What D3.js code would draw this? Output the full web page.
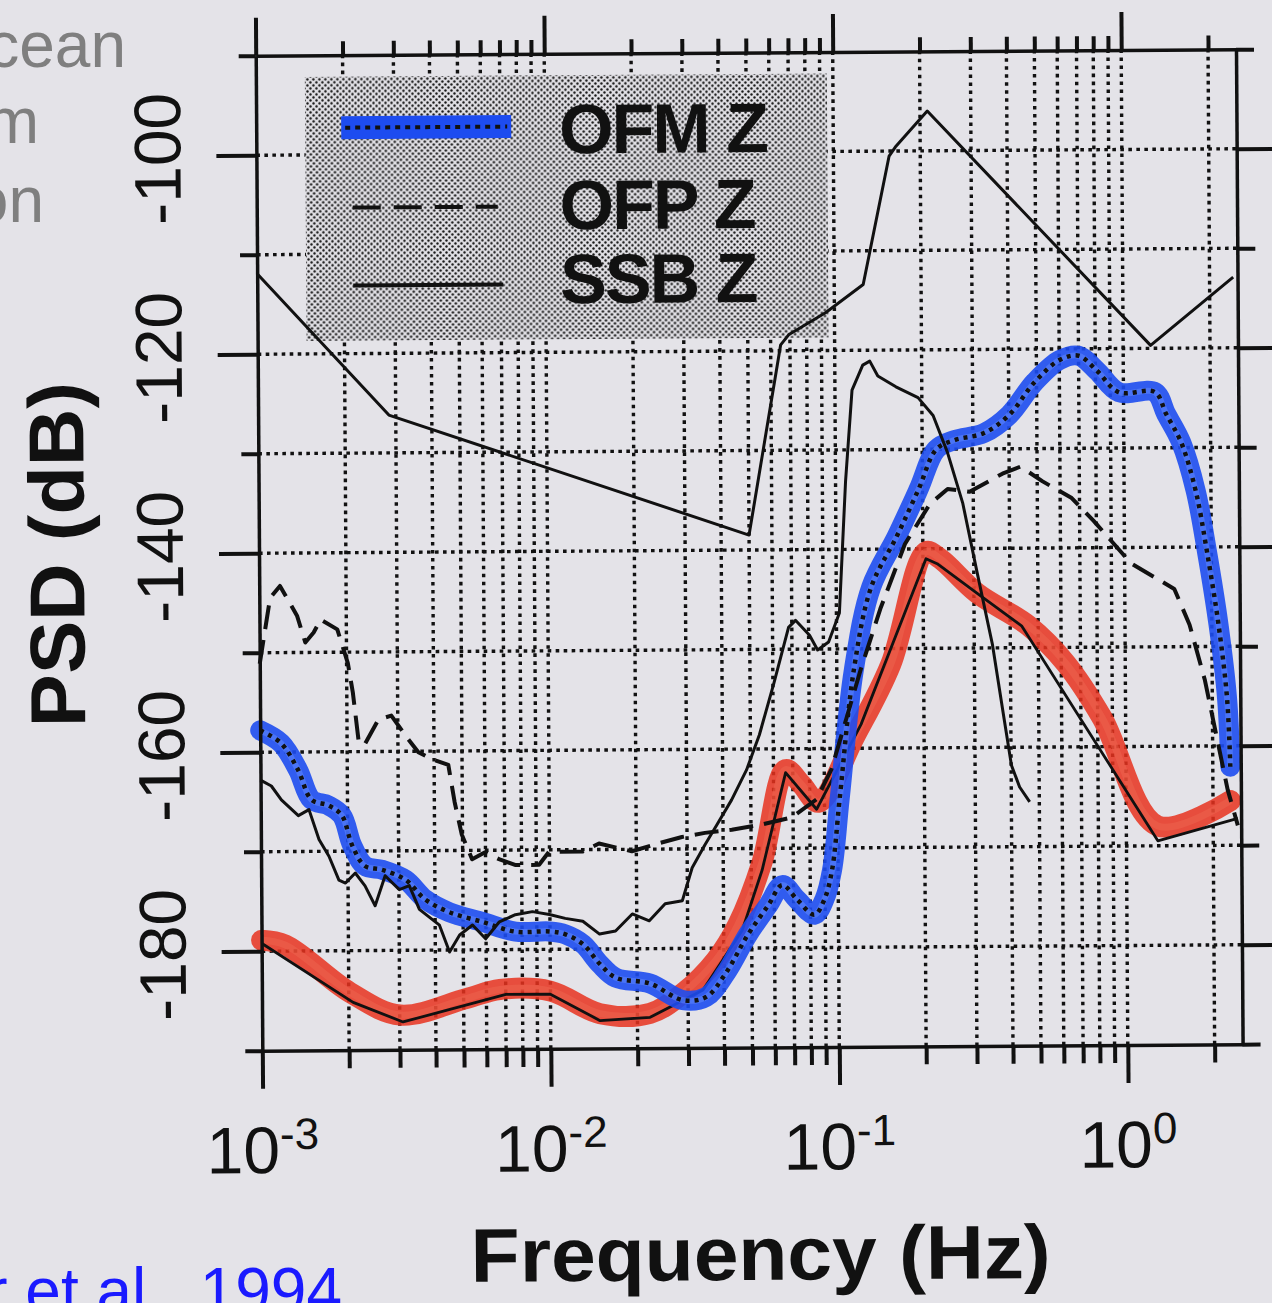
<!DOCTYPE html>
<html><head><meta charset="utf-8">
<script src="https://cdn.jsdelivr.net/npm/d3@7"></script>
<style>html,body{margin:0;padding:0;background:#e4e3e8;}svg{display:block;}</style>
</head><body>
<svg id="chart" width="1272" height="1303"></svg>
<script>
// ---------- data ----------
const decades = [1e-3, 1e-2, 1e-1, 1];
const decadeExponents = ["-3", "-2", "-1", "0"];
const mantissas = [1, 2, 3, 4, 5, 6, 7, 8, 9];
const yMajorTicks = [-180, -160, -140, -120, -100];
const yMinorTicks = [-190, -170, -150, -130, -110, -90];
const yGridValues = [-180, -170, -160, -150, -140, -130, -120, -110, -100];
const legendLabels = ["OFM Z", "OFP Z", "SSB Z"];
const sideWords = ["cean", "m", "on"];
const citation = "r et al., 1994";

// New high noise model (thin solid black, top)
const highNoiseModel = [[0.001,-111.9],[0.00284,-126.2],[0.05,-138.5],[0.065,-119.4],[0.0693,-118.4],[0.0931,-116.2],[0.126,-113.4],[0.156,-100.5],[0.164,-99.6],[0.212,-96.0],[1.245,-119.7],[2.415,-112.9]];
// Low noise model (thin solid black, inside the red band)
const lowNoiseModel = [[0.001,-179.2],[0.00207,-185.2],[0.00308,-187.2],[0.00701,-184.5],[0.00996,-184.5],[0.01485,-187.2],[0.02213,-186.9],[0.0338,-184.2],[0.0464,-178.2],[0.0545,-172.2],[0.0661,-162.4],[0.0845,-166.1],[0.121,-157.6],[0.205,-141.0],[0.224,-141.5],[0.308,-144.5],[0.438,-147.8],[1.285,-169.5],[2.435,-167.3]];
// Red highlighted band
const lowNoiseBand = [[0.001,-178.9],[0.00121,-179.4],[0.00202,-184.2],[0.00301,-186.5],[0.0051,-184.9],[0.00668,-184.0],[0.01,-184.2],[0.01485,-186.5],[0.02213,-186.5],[0.02877,-184.5],[0.0375,-181.2],[0.0447,-177.7],[0.0545,-171.4],[0.0661,-162.1],[0.075,-163.6],[0.0859,-165.4],[0.1146,-158.9],[0.1538,-151.6],[0.205,-140.3],[0.2294,-141.0],[0.308,-144.5],[0.463,-147.8],[0.622,-151.6],[0.829,-157.1],[1.285,-168.0],[2.30,-165.5]];
// OFM Z (blue band with dotted black)
const ofmZ = [[0.001,-157.8],[0.00118,-159.1],[0.00135,-161.8],[0.0015,-164.8],[0.00172,-165.4],[0.00191,-166.4],[0.00207,-169.4],[0.00229,-171.5],[0.00263,-171.9],[0.00316,-172.9],[0.0037,-174.9],[0.00448,-176.2],[0.00583,-177.2],[0.00759,-178.2],[0.00995,-178.2],[0.0113,-178.5],[0.013,-179.5],[0.01485,-181.5],[0.01687,-182.9],[0.02213,-183.5],[0.02877,-185.2],[0.0346,-184.9],[0.0406,-182.5],[0.0484,-178.7],[0.0572,-175.7],[0.064,-173.7],[0.0721,-175.2],[0.0826,-176.7],[0.0894,-175.2],[0.0953,-172.2],[0.1016,-165.1],[0.1146,-152.1],[0.1322,-143.8],[0.1627,-138.7],[0.194,-134.0],[0.224,-130.0],[0.2585,-129.1],[0.328,-128.4],[0.401,-126.6],[0.493,-123.3],[0.603,-121.1],[0.701,-120.7],[0.809,-122.2],[0.965,-124.4],[1.285,-124.4],[1.404,-126.6],[1.582,-129.5],[1.769,-134.3],[1.932,-140.5],[2.109,-147.8],[2.249,-155.2],[2.30,-162.1]];
// OFP Z (dashed black)
const ofpZ = [[0.001,-151.1],[0.00109,-144.5],[0.00118,-143.3],[0.00135,-146.3],[0.00144,-149.0],[0.00154,-148.0],[0.00163,-146.7],[0.00186,-147.7],[0.00202,-151.1],[0.0021,-154.1],[0.00219,-158.8],[0.00229,-159.4],[0.00257,-156.8],[0.00285,-156.4],[0.00326,-158.8],[0.00353,-160.1],[0.00392,-160.8],[0.00448,-161.4],[0.0047,-165.1],[0.00497,-168.4],[0.00539,-170.9],[0.00598,-170.2],[0.00668,-170.9],[0.00759,-171.5],[0.0092,-171.5],[0.00996,-170.2],[0.013,-170.2],[0.01485,-169.4],[0.0193,-170.2],[0.024,-169.4],[0.0288,-168.8],[0.0346,-168.4],[0.0429,-168.1],[0.0545,-167.6],[0.0693,-166.9],[0.0845,-165.1],[0.0953,-162.1],[0.1074,-157.1],[0.121,-152.1],[0.142,-146.0],[0.1734,-139.5],[0.212,-135.5],[0.2445,-134.0],[0.2914,-134.3],[0.379,-132.5],[0.438,-131.8],[0.522,-133.3],[0.658,-135.0],[0.783,-137.3],[1.053,-141.6],[1.485,-144.2],[1.674,-147.8],[1.887,-153.4],[2.06,-158.9],[2.249,-164.4],[2.435,-168.0]];
// SSB Z (thin solid black)
const ssbZ = [[0.001,-162.8],[0.00109,-163.4],[0.00118,-164.8],[0.00135,-166.4],[0.00147,-165.8],[0.00159,-168.8],[0.00172,-170.5],[0.00186,-172.9],[0.00196,-173.2],[0.00212,-172.2],[0.00229,-173.5],[0.00248,-175.5],[0.00269,-172.5],[0.00301,-173.9],[0.00326,-173.5],[0.00353,-175.9],[0.00414,-177.5],[0.00448,-180.2],[0.00486,-178.5],[0.00539,-177.5],[0.00598,-178.9],[0.00668,-177.2],[0.00759,-176.5],[0.0087,-176.2],[0.00996,-176.5],[0.0113,-176.9],[0.013,-177.2],[0.01485,-178.5],[0.01687,-178.2],[0.0193,-176.5],[0.0221,-177.2],[0.0251,-175.5],[0.0288,-175.2],[0.0312,-171.9],[0.0346,-169.6],[0.0381,-167.6],[0.0429,-165.1],[0.0484,-162.1],[0.0537,-158.6],[0.0605,-153.4],[0.0682,-147.8],[0.0721,-147.1],[0.0806,-148.6],[0.0859,-150.1],[0.0938,-149.3],[0.1024,-146.4],[0.1083,-133.2],[0.1146,-124.0],[0.125,-121.5],[0.1322,-121.1],[0.1409,-122.6],[0.1627,-123.7],[0.194,-124.8],[0.2186,-126.6],[0.2445,-130.3],[0.2755,-135.4],[0.308,-142.4],[0.347,-149.7],[0.379,-157.1],[0.401,-161.8],[0.4275,-164.0],[0.463,-165.5]];

// ---------- drawing ----------
const FONT = "'Liberation Sans', Arial, Helvetica, sans-serif";
const svg = d3.select("#chart");
svg.append("rect").attr("width",1272).attr("height",1303).attr("fill","#e4e3e8");

const defs = svg.append("defs");
const pat = defs.append("pattern").attr("id","stipple").attr("width",6).attr("height",6).attr("patternUnits","userSpaceOnUse");
pat.append("rect").attr("width",6).attr("height",6).attr("fill","#e0dfe4");
pat.append("circle").attr("cx",1.5).attr("cy",1.5).attr("r",1.2).attr("fill","#151515");
pat.append("circle").attr("cx",4.5).attr("cy",4.5).attr("r",1.2).attr("fill","#151515");

const x = d3.scaleLog().domain([1e-3, 2.5]).range([259, 1239.3]);
const y = d3.scaleLinear().domain([-190, -90]).range([1047.5, 52.5]);
const [x0, x1] = x.range();
const [yb, yt] = y.range();

// side texts (slide fragments, cut by the page edge as in the reference)
const sideBaselines = [67, 143, 222], sideEnds = [126, 39, 44];
svg.selectAll("text.side").data(sideWords).join("text").attr("class","side")
  .attr("x",(d,i)=>sideEnds[i]).attr("y",(d,i)=>sideBaselines[i])
  .attr("text-anchor","end").attr("font-family",FONT).attr("font-size",64).attr("fill","#7f7f7f").text(d=>d);
svg.append("text").attr("x",342).attr("y",1313).attr("text-anchor","end")
  .attr("font-family",FONT).attr("font-size",64).attr("fill","#1a1aff").text(citation);

const g = svg.append("g").attr("transform","rotate(-0.38,749,550)");

// grid
const gridX = decades.flatMap(d => mantissas.map(m => m * d)).filter(v => v > 1.001e-3 && v < 2.5);
const dotted = sel => sel.attr("stroke","#111").attr("stroke-width",3.4).attr("stroke-dasharray","3.6,4.4");
g.append("g").selectAll("line").data(gridX).join("line")
  .attr("x1",d=>x(d)).attr("x2",d=>x(d)).attr("y1",yb).attr("y2",yt).call(dotted);
g.append("g").selectAll("line").data(yGridValues).join("line")
  .attr("x1",x0).attr("x2",x1).attr("y1",d=>y(d)).attr("y2",d=>y(d)).call(dotted);

// legend box
g.append("rect").attr("x",308).attr("y",74).attr("width",522).attr("height",264).attr("fill","url(#stipple)");

// data lines
const lineLin = d3.line().x(d=>x(d[0])).y(d=>y(d[1]));
const lineSmooth = d3.line().x(d=>x(d[0])).y(d=>y(d[1])).curve(d3.curveCatmullRom.alpha(0.5));

g.append("path").datum(lowNoiseBand).attr("d",lineSmooth).attr("fill","none")
  .attr("stroke","#e8321f").attr("stroke-opacity",0.85).attr("stroke-width",21)
  .attr("stroke-linecap","round").attr("stroke-linejoin","round");
g.append("path").datum(lowNoiseBand).attr("d",lineSmooth).attr("fill","none")
  .attr("stroke","#f0705a").attr("stroke-opacity",0.35).attr("stroke-width",7);
g.append("path").datum(lowNoiseModel).attr("d",lineLin).attr("fill","none")
  .attr("stroke","#111").attr("stroke-width",2.8).attr("stroke-linejoin","round");

g.append("path").datum(ofmZ).attr("d",lineSmooth).attr("fill","none")
  .attr("stroke","#1d4cf0").attr("stroke-opacity",0.9).attr("stroke-width",20)
  .attr("stroke-linecap","round").attr("stroke-linejoin","round");
g.append("path").datum(ofmZ).attr("d",lineSmooth).attr("fill","none")
  .attr("stroke","#6a93ff").attr("stroke-opacity",0.45).attr("stroke-width",6);
g.append("path").datum(ofmZ).attr("d",lineSmooth).attr("fill","none")
  .attr("stroke","#111").attr("stroke-width",4.5).attr("stroke-dasharray","4,5");

g.append("path").datum(ofpZ).attr("d",lineLin).attr("fill","none")
  .attr("stroke","#111").attr("stroke-width",4).attr("stroke-dasharray","24,11").attr("stroke-linejoin","round");
g.append("path").datum(ssbZ).attr("d",lineLin).attr("fill","none")
  .attr("stroke","#111").attr("stroke-width",3).attr("stroke-linejoin","round");
g.append("path").datum(highNoiseModel).attr("d",lineLin).attr("fill","none")
  .attr("stroke","#111").attr("stroke-width",3).attr("stroke-linejoin","round");

// legend samples and labels
const lg = g.append("g");
lg.append("line").attr("x1",344).attr("x2",514).attr("y1",125).attr("y2",125)
  .attr("stroke","#1d4cf0").attr("stroke-width",23);
lg.append("line").attr("x1",348).attr("x2",510).attr("y1",125).attr("y2",125)
  .attr("stroke","#111").attr("stroke-width",4).attr("stroke-dasharray","5,5");
lg.append("line").attr("x1",355).attr("x2",500).attr("y1",205).attr("y2",205)
  .attr("stroke","#111").attr("stroke-width",4).attr("stroke-dasharray","28,13");
lg.append("line").attr("x1",355).attr("x2",505).attr("y1",283).attr("y2",283)
  .attr("stroke","#111").attr("stroke-width",4);
const legendBaselines = [152, 228, 302];
lg.selectAll("text").data(legendLabels).join("text")
  .attr("x",562).attr("y",(d,i)=>legendBaselines[i])
  .attr("font-family",FONT).attr("font-weight","bold").attr("font-size",70)
  .attr("letter-spacing",-2).attr("fill","#111").text(d=>d);

// axes
const minorX = decades.flatMap(d => mantissas.slice(1).map(m => m * d)).filter(v => v < 2.5);
const styleAxis = sel => {
  sel.selectAll(".tick line").attr("stroke","#111").attr("stroke-width",4);
  sel.select(".domain").attr("stroke","#111").attr("stroke-width",3.5);
};
const noDomain = sel => sel.select(".domain").remove();
g.append("g").attr("transform",`translate(0,${yt})`)
  .call(d3.axisTop(x).tickValues(decades).tickSize(38).tickSizeOuter(0).tickFormat("")).call(styleAxis);
g.append("g").attr("transform",`translate(0,${yt})`)
  .call(d3.axisTop(x).tickValues(minorX).tickSize(14).tickFormat("")).call(styleAxis).call(noDomain);
g.append("g").attr("transform",`translate(0,${yb})`)
  .call(d3.axisBottom(x).tickValues(decades).tickSize(38).tickSizeOuter(0).tickFormat("")).call(styleAxis);
g.append("g").attr("transform",`translate(0,${yb})`)
  .call(d3.axisBottom(x).tickValues(minorX).tickSize(18).tickFormat("")).call(styleAxis).call(noDomain);
g.append("g").attr("transform",`translate(${x0},0)`)
  .call(d3.axisLeft(y).tickValues(yMajorTicks).tickSize(40).tickSizeOuter(0).tickFormat("")).call(styleAxis);
g.append("g").attr("transform",`translate(${x0},0)`)
  .call(d3.axisLeft(y).tickValues(yMinorTicks).tickSize(17).tickFormat("")).call(styleAxis).call(noDomain);
g.append("g").attr("transform",`translate(${x1},0)`)
  .call(d3.axisRight(y).tickValues(yMajorTicks).tickSize(36).tickSizeOuter(0).tickFormat("")).call(styleAxis);
g.append("g").attr("transform",`translate(${x1},0)`)
  .call(d3.axisRight(y).tickValues(yMinorTicks).tickSize(18).tickFormat("")).call(styleAxis).call(noDomain);

// tick labels
const xl = g.append("g").selectAll("text").data(decades).join("text")
  .attr("x",d=>x(d)).attr("y",1170).attr("text-anchor","middle")
  .attr("font-family",FONT).attr("fill","#111");
xl.append("tspan").attr("font-size",66).text("10");
xl.append("tspan").attr("font-size",44).attr("dy",-24).text((d,i)=>decadeExponents[i]);

g.append("g").selectAll("text").data(yMajorTicks).join("text")
  .attr("transform",d=>`translate(183,${y(d)+3}) rotate(-90)`)
  .attr("text-anchor","middle").attr("font-family",FONT).attr("font-size",66).attr("fill","#111")
  .text(d=>d3.format("d")(d).replace("\u2212","-"));

// axis titles
g.append("text").attr("x",756).attr("y",1280).attr("text-anchor","middle")
  .attr("font-family",FONT).attr("font-weight","bold").attr("font-size",76)
  .attr("textLength",580).attr("lengthAdjust","spacingAndGlyphs").attr("fill","#111").text("Frequency (Hz)");
g.append("text").attr("transform","translate(84,550) rotate(-90)").attr("text-anchor","middle")
  .attr("font-family",FONT).attr("font-weight","bold").attr("font-size",78)
  .attr("textLength",345).attr("lengthAdjust","spacingAndGlyphs").attr("fill","#111").text("PSD (dB)");
</script>
</body></html>
